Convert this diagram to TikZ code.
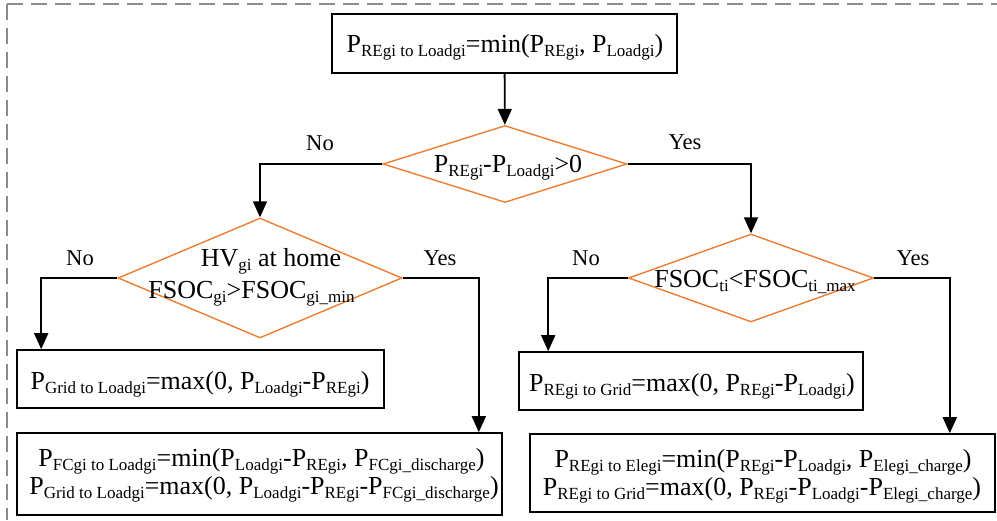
\documentclass[tikz,border=0pt]{standalone}
\usepackage{fontspec}
\setmainfont{Liberation Serif}
\usetikzlibrary{arrows.meta,shapes.geometric}

\definecolor{decisionline}{RGB}{237,125,49}
\definecolor{framegray}{RGB}{140,140,140}

% lowered, smaller index text
\newcommand\sbs[1]{\raisebox{-4.5pt}{\fontsize{17}{17}\selectfont #1}}
\newcommand\mainsize{\fontsize{26}{26}\selectfont}
\newcommand\labelsize{\fontsize{22.6}{24}\selectfont}

\begin{document}
\begin{tikzpicture}[x=1pt,y=-1pt,
  box/.style={draw=black, line width=1.6pt, rectangle, inner sep=0pt},
  dia/.style={draw=decisionline, line width=1.4pt, diamond, inner sep=0pt},
  txt/.style={inner sep=0pt, anchor=base, font=\mainsize},
  lbl/.style={inner sep=0pt, anchor=base, font=\labelsize},
  arr/.style={draw=black, line width=1.8pt, -{Triangle[length=16pt,width=14pt]}},
  frameline/.style={draw=framegray, line width=2pt, dash pattern=on 16pt off 8pt}
]
\useasboundingbox (0,0) rectangle (997,520);

% dashed enclosure (top and left sides)
\draw[frameline] (7,4) -- (997,4);
\draw[frameline] (7,4) -- (7,520);

% process boxes
\node[box, minimum width=345pt, minimum height=59pt] (start) at (504.5,43.5) {};
\node[box, minimum width=367pt, minimum height=58pt] (gridload) at (200.5,379) {};
\node[box, minimum width=485pt, minimum height=82pt] (fcload) at (259.5,474) {};
\node[box, minimum width=344pt, minimum height=58pt] (regrid) at (691,381) {};
\node[box, minimum width=465pt, minimum height=78pt] (recharge) at (762.5,473) {};

% decisions
\node[dia, minimum width=244pt, minimum height=77pt] (surplus) at (505,164) {};
\node[dia, minimum width=284pt, minimum height=120pt] (hvhome) at (260,278) {};
\node[dia, minimum width=245pt, minimum height=88pt] (socmax) at (751,278) {};

% box texts
\node[txt] (tstart) at (505,52) {P\sbs{REgi to Loadgi}=min(P\sbs{REgi}, P\sbs{Loadgi})};
\node[txt] (tgridload) at (200,389) {P\sbs{Grid to Loadgi}=max(0, P\sbs{Loadgi}-P\sbs{REgi})};
\node[txt] (tfcloada) at (261.5,466) {P\sbs{FCgi to Loadgi}=min(P\sbs{Loadgi}-P\sbs{REgi}, P\sbs{FCgi\_discharge})};
\node[txt] (tfcloadb) at (264,494) {P\sbs{Grid to Loadgi}=max(0, P\sbs{Loadgi}-P\sbs{REgi}-P\sbs{FCgi\_discharge})};
\node[txt] (tregrid) at (692,391) {P\sbs{REgi to Grid}=max(0, P\sbs{REgi}-P\sbs{Loadgi})};
\node[txt] (trechargea) at (763,467) {P\sbs{REgi to Elegi}=min(P\sbs{REgi}-P\sbs{Loadgi}, P\sbs{Elegi\_charge})};
\node[txt] (trechargeb) at (762,495) {P\sbs{REgi to Grid}=max(0, P\sbs{REgi}-P\sbs{Loadgi}-P\sbs{Elegi\_charge})};

% decision texts
\node[txt] (tsurplus) at (508,172) {P\sbs{REgi}-P\sbs{Loadgi}>0};
\node[txt] (thvhomea) at (271,266) {HV\sbs{gi} at home};
\node[txt] (thvhomeb) at (251.5,298) {FSOC\sbs{gi}>FSOC\sbs{gi\_min}};
\node[txt] (tsocmax) at (755,287) {FSOC\sbs{ti}<FSOC\sbs{ti\_max}};

% branch labels
\node[lbl] (no1) at (320,150) {No};
\node[lbl] (yes1) at (685,149) {Yes};
\node[lbl] (no2) at (80,265) {No};
\node[lbl] (yes2) at (440,265) {Yes};
\node[lbl] (no3) at (586,265) {No};
\node[lbl] (yes3) at (913,265) {Yes};

% connectors
\draw[arr] (start) -- (surplus);
\draw[arr] (surplus.west) -| (hvhome.north);
\draw[arr] (surplus.east) -| (socmax.north);
\draw[arr] (hvhome.west) -| ([xshift=25pt]gridload.north west);
\draw[arr] (hvhome.east) -| ([xshift=-24pt]fcload.north east);
\draw[arr] (socmax.west) -| ([xshift=30pt]regrid.north west);
\draw[arr] (socmax.east) -| ([xshift=-46pt]recharge.north east);
\end{tikzpicture}
\end{document}
